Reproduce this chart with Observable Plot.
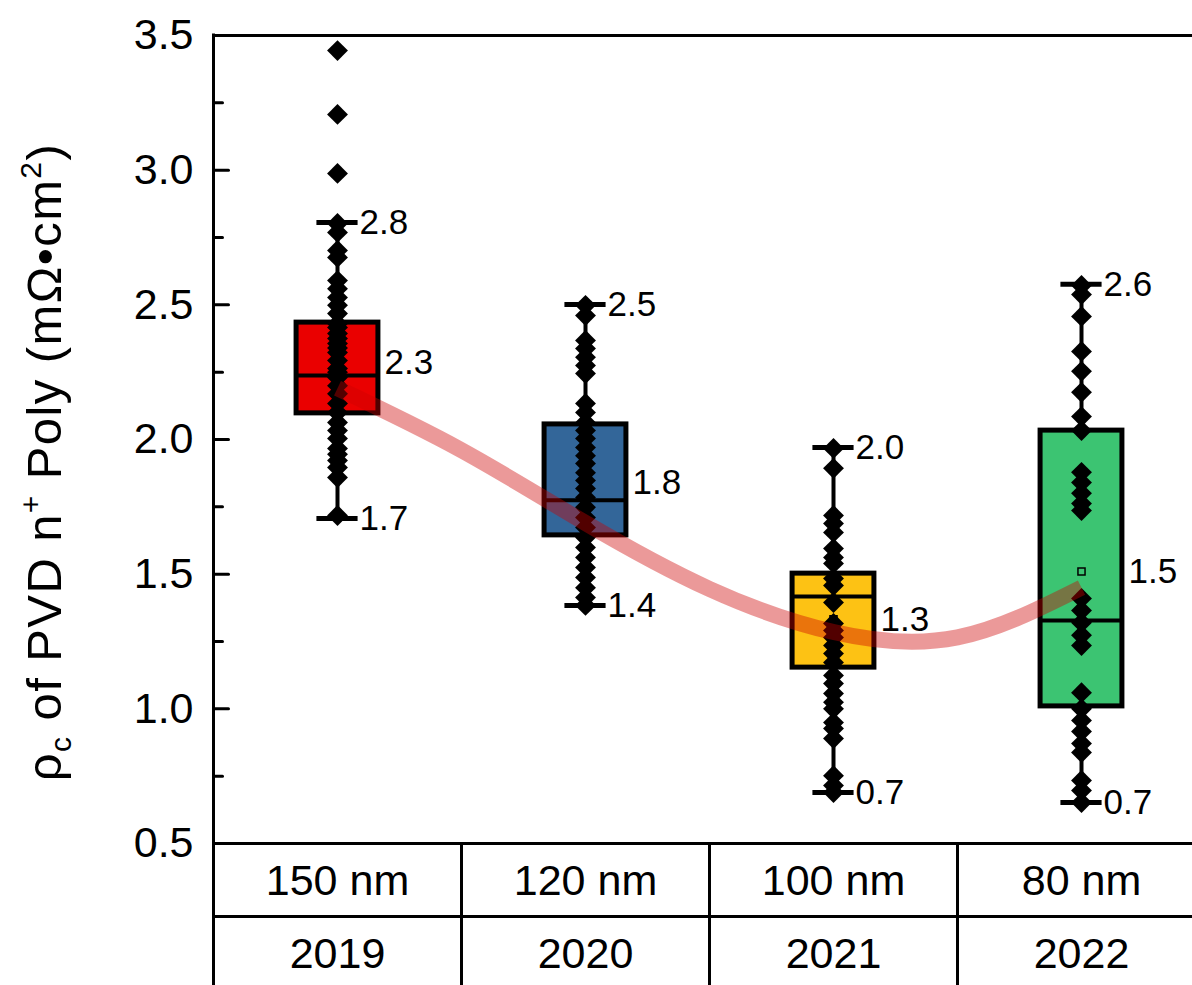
<!DOCTYPE html>
<html><head><meta charset="utf-8">
<script src="https://cdn.jsdelivr.net/npm/d3@7"></script>
<script src="https://cdn.jsdelivr.net/npm/@observablehq/plot@0.6"></script>
<style>
html,body{margin:0;padding:0;background:#fff;}
#wrap{position:relative;width:1192px;height:985px;overflow:hidden;font-family:"Liberation Sans",Arial,sans-serif;background:#fff;}
#chart{position:absolute;left:0;top:0;}
#tbl{position:absolute;left:212px;top:844px;display:grid;grid-template-columns:repeat(4,248px);grid-template-rows:74px 80px;}
.cell{border-left:3px solid #000;box-sizing:border-box;display:flex;align-items:center;justify-content:center;font-size:43px;color:#000;}
.r1{border-bottom:3px solid #000;padding-top:2px;}
.r2{padding-bottom:10px;}
</style></head>
<body>
<div id="wrap"><div id="chart"></div><div id="tbl"></div></div>
<script>
// ---- data ----
const thickness = ["150 nm", "120 nm", "100 nm", "80 nm"];
const years = ["2019", "2020", "2021", "2022"];
const boxColors = ["#ea0000", "#336699", "#fdc214", "#3cc472"];
const q1 = [2.097, 1.644, 1.153, 1.009];
const median = [2.238, 1.774, 1.417, 1.328];
const q3 = [2.434, 2.056, 1.502, 2.033];
const whiskerMin = [1.707, 1.384, 0.689, 0.652];
const whiskerMax = [2.806, 2.501, 1.970, 2.576];
const means = [2.285, 1.84, 1.332, 1.51];
const pts2019 = [3.444, 3.207, 2.988, 2.802, 2.769, 2.702, 2.676, 2.59, 2.56, 2.527, 2.498, 2.468, 2.43, 2.416, 2.394, 2.375, 2.356, 2.34, 2.323, 2.293, 2.264, 2.25, 2.23, 2.2, 2.17, 2.134, 2.10, 2.063, 2.033, 2.004, 1.967, 1.945, 1.922, 1.896, 1.859, 1.718];
const pts2020 = [2.498, 2.46, 2.368, 2.338, 2.305, 2.275, 2.245, 2.134, 2.10, 2.063, 2.033, 2.004, 1.97, 1.94, 1.911, 1.877, 1.848, 1.818, 1.785, 1.748, 1.71, 1.673, 1.636, 1.599, 1.562, 1.525, 1.488, 1.45, 1.413, 1.384];
const pts2021 = [1.967, 1.893, 1.718, 1.688, 1.655, 1.595, 1.562, 1.54, 1.484, 1.458, 1.395, 1.317, 1.291, 1.265, 1.235, 1.205, 1.172, 1.124, 1.094, 1.057, 1.024, 1.0, 0.949, 0.927, 0.89, 0.752, 0.715, 0.689];
const pts2022 = [2.572, 2.538, 2.457, 2.327, 2.253, 2.175, 2.085, 2.033, 1.878, 1.84, 1.80, 1.762, 1.736, 1.41, 1.365, 1.32, 1.273, 1.235, 1.06, 1.0, 0.957, 0.916, 0.871, 0.838, 0.734, 0.697, 0.652];
const fitX = [0, 0.5, 1, 1.5, 2, 2.5, 3];
const fitY = [2.19, 1.96, 1.69, 1.445, 1.285, 1.265, 1.45];
const yMajor = [0.5, 1.0, 1.5, 2.0, 2.5, 3.0, 3.5];
const yMinor = [0.75, 1.25, 1.75, 2.25, 2.75, 3.25];

// ---- tables built from the arrays ----
const groups = years.map((y, i) => ({i, year: y, q1: q1[i], median: median[i], q3: q3[i], lo: whiskerMin[i], hi: whiskerMax[i], mean: means[i], color: boxColors[i]}));
const allPts = [pts2019, pts2020, pts2021, pts2022].flatMap((arr, i) => arr.map(v => ({i, v})));
const fit = fitX.map((x, k) => ({x, y: fitY[k]}));
const fmt = d3.format(".1f");
const BW = 0.165, CW = 0.083;
const tickShape = {draw(ctx, l) { ctx.moveTo(0, 0); ctx.lineTo(0, -l); }};

const chart = Plot.plot({
  width: 1192, height: 985,
  marginLeft: 213, marginTop: 35, marginBottom: 142, marginRight: 0,
  style: {fontFamily: "'Liberation Sans', Arial, sans-serif", color: "#000", background: "transparent"},
  x: {type: "linear", domain: [-0.5, 3.5], range: [213, 1205], axis: null},
  y: {domain: [0.5, 3.5], range: [843, 35], axis: null},
  color: {type: "identity"},
  marks: [
    Plot.ruleX(groups, {x: "i", y1: "lo", y2: "hi", stroke: "#000", strokeWidth: 4}),
    Plot.rect(groups, {x1: d => d.i - BW, x2: d => d.i + BW, y1: "q1", y2: "q3", fill: "color", stroke: "#000", strokeWidth: 5}),
    Plot.ruleY(groups, {y: "median", x1: d => d.i - BW, x2: d => d.i + BW, stroke: "#000", strokeWidth: 4}),
    Plot.ruleY(groups, {y: "hi", x1: d => d.i - CW, x2: d => d.i + CW, stroke: "#000", strokeWidth: 5}),
    Plot.ruleY(groups, {y: "lo", x1: d => d.i - CW, x2: d => d.i + CW, stroke: "#000", strokeWidth: 5}),
    Plot.dot(allPts, {x: "i", y: "v", symbol: "diamond2", r: 9.4, fill: "#000", stroke: "none"}),
    Plot.dot(groups, {x: "i", y: "mean", symbol: "square", r: 4, fill: "none", stroke: "#000", strokeWidth: 1.5}),
    Plot.text(groups, {x: "i", y: "hi", text: d => fmt(d.hi), dx: 22, textAnchor: "start", fontSize: 35, fill: "#000"}),
    Plot.text(groups, {x: "i", y: "lo", text: d => fmt(d.lo), dx: 22, textAnchor: "start", fontSize: 35, fill: "#000"}),
    Plot.text(groups, {x: "i", y: "mean", text: d => fmt(d.mean), dx: 47, textAnchor: "start", fontSize: 35, fill: "#000"}),
    Plot.line(fit, {x: "x", y: "y", curve: "natural", stroke: "#cc0000", strokeOpacity: 0.4, strokeWidth: 16, strokeLinecap: "butt"}),
    // frame lines
    Plot.ruleY([3.5, 0.5], {stroke: "#000", strokeWidth: 3}),
    Plot.ruleX([-0.5], {y1: 0.5, y2: 3.5, stroke: "#000", strokeWidth: 3, strokeLinecap: "square"}),
    // inward ticks
    Plot.vector(yMajor, {y: d => d, frameAnchor: "left", length: 15, rotate: 90, anchor: "start", stroke: "#000", strokeWidth: 3, shape: tickShape}),
    Plot.vector(yMinor, {y: d => d, frameAnchor: "left", length: 9, rotate: 90, anchor: "start", stroke: "#000", strokeWidth: 3, shape: tickShape}),
    Plot.axisY({ticks: yMajor, tickSize: 0, tickPadding: 20, tickFormat: ".1f", fontSize: 43, label: null, fill: "#000"})
  ]
});
document.getElementById("chart").appendChild(chart);

// y-axis title with sub/superscripts
const t = d3.select(chart).append("text")
  .attr("transform", "translate(61,462) rotate(-90)")
  .attr("text-anchor", "middle").attr("font-size", 49).attr("fill", "#000")
  .attr("letter-spacing", 1.4)
  .attr("font-family", "'Liberation Sans', Arial, sans-serif");
t.append("tspan").text("ρ");
t.append("tspan").attr("font-size", 30).attr("dy", 10).text("c");
t.append("tspan").attr("dy", -10).text(" of PVD n");
t.append("tspan").attr("font-size", 30).attr("dy", -20).text("+");
t.append("tspan").attr("dy", 20).text(" Poly (mΩ•cm");
t.append("tspan").attr("font-size", 30).attr("dy", -20).text("2");
t.append("tspan").attr("dy", 20).text(")");

// category table below the plot
const tbl = d3.select("#tbl");
thickness.forEach(s => tbl.append("div").attr("class", "cell r1").text(s));
years.forEach(s => tbl.append("div").attr("class", "cell r2").text(s));
</script>
</body></html>
